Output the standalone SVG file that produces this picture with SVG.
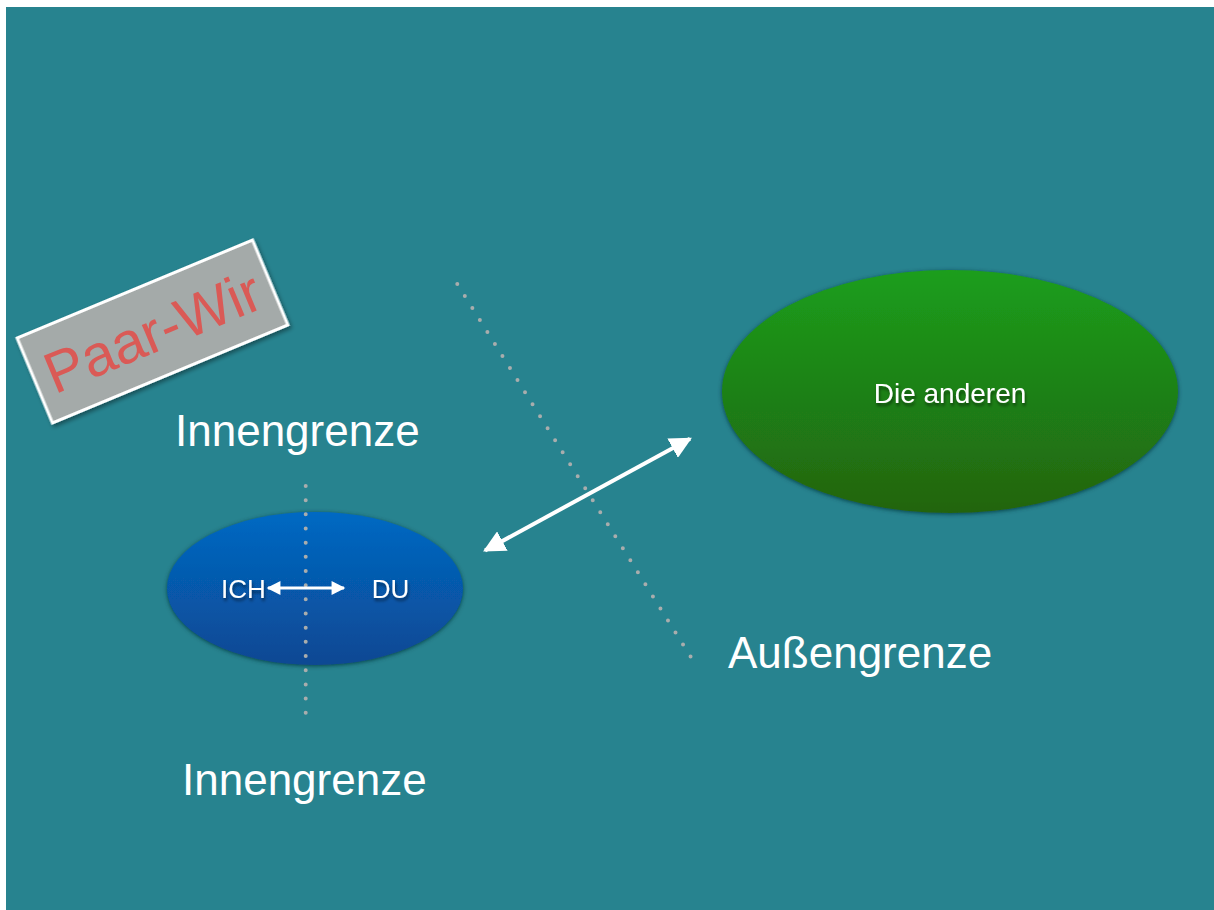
<svg xmlns="http://www.w3.org/2000/svg" width="1214" height="910" viewBox="0 0 1214 910">
<style>
.lbl{font-family:"Liberation Sans",Arial,sans-serif;fill:#ffffff;}
.big{font-size:44px;}
.dots{fill:none;stroke:#a9adad;stroke-width:4;stroke-linecap:round;stroke-dasharray:0 1;}
.conn{stroke:#ffffff;fill:none;}
</style>
<defs>
<linearGradient id="gBlue" x1="0" y1="0" x2="0" y2="1">
<stop offset="0" stop-color="#0369c3"/>
<stop offset="1" stop-color="#0a4893"/>
</linearGradient>
<linearGradient id="gGreen" x1="0" y1="0" x2="0" y2="1">
<stop offset="0" stop-color="#1b9e1c"/>
<stop offset="1" stop-color="#22640f"/>
</linearGradient>
<filter id="shEl" x="-10%" y="-10%" width="120%" height="125%">
<feGaussianBlur in="SourceAlpha" stdDeviation="2"/>
<feOffset dy="1" result="b"/>
<feFlood flood-color="#0b3a40" flood-opacity="0.9"/>
<feComposite in2="b" operator="in"/>
<feMerge><feMergeNode/><feMergeNode in="SourceGraphic"/></feMerge>
</filter>
<filter id="shTx" x="-10%" y="-20%" width="120%" height="150%">
<feGaussianBlur in="SourceAlpha" stdDeviation="1.5"/>
<feOffset dx="1" dy="3" result="b"/>
<feFlood flood-color="#000000" flood-opacity="0.45"/>
<feComposite in2="b" operator="in"/>
<feMerge><feMergeNode/><feMergeNode in="SourceGraphic"/></feMerge>
</filter>
<filter id="shRect" x="-10%" y="-20%" width="120%" height="150%">
<feGaussianBlur in="SourceAlpha" stdDeviation="2"/>
<feOffset dx="1" dy="3" result="b"/>
<feFlood flood-color="#000000" flood-opacity="0.4"/>
<feComposite in2="b" operator="in"/>
<feMerge><feMergeNode/><feMergeNode in="SourceGraphic"/></feMerge>
</filter>
<marker id="ahBig" viewBox="0 0 10 10" refX="9" refY="5" markerWidth="5.5" markerHeight="5.5" orient="auto-start-reverse" markerUnits="strokeWidth">
<path d="M0,0 L10,5 L0,10 Z" fill="#ffffff"/>
</marker>
<marker id="ahSmall" viewBox="0 0 10 10" refX="9" refY="5" markerWidth="5" markerHeight="4.6" orient="auto-start-reverse" markerUnits="strokeWidth">
<path d="M0,0 L10,5 L0,10 Z" fill="#ffffff"/>
</marker>
</defs>

<rect x="0" y="0" width="1214" height="910" fill="#ffffff"/>
<rect x="6" y="7" width="1208" height="903" fill="#27838f"/>

<g id="boundaries">
<path class="dots" d="M457.3,284 L690.7,656.7" pathLength="31.02"/>
</g>

<g id="node-paar-wir" transform="rotate(-22.6 152.5 331.5)">
<rect x="25" y="285.5" width="255" height="92" fill="#a4aaa9" stroke="#ffffff" stroke-width="3" filter="url(#shRect)"/>
<text x="152.5" y="352" text-anchor="middle" font-family="Liberation Sans,Arial,sans-serif" font-size="58" fill="#da5a56">Paar-Wir</text>
</g>

<g id="node-paar">
<ellipse cx="315" cy="588.5" rx="148" ry="76.5" fill="url(#gBlue)" filter="url(#shEl)"/>
</g>

<g id="node-anderen">
<ellipse cx="950" cy="391.5" rx="228" ry="121.5" fill="url(#gGreen)" filter="url(#shEl)"/>
<text class="lbl" x="950" y="403" text-anchor="middle" font-size="28" filter="url(#shTx)">Die anderen</text>
</g>

<g id="inner-boundary">
<path class="dots" d="M305.7,486 L305.7,713" pathLength="16.02"/>
</g>

<g id="node-ich">
<text class="lbl" x="243.5" y="598" text-anchor="middle" font-size="26" filter="url(#shTx)">ICH</text>
</g>
<g id="node-du">
<text class="lbl" x="390.5" y="598" text-anchor="middle" font-size="26" filter="url(#shTx)">DU</text>
</g>

<g id="connectors">
<line class="conn" x1="268" y1="588" x2="344" y2="588" stroke-width="3" marker-start="url(#ahSmall)" marker-end="url(#ahSmall)"/>
<line class="conn" x1="485" y1="550.5" x2="690" y2="438.7" stroke-width="4" marker-start="url(#ahBig)" marker-end="url(#ahBig)"/>
</g>

<g id="labels">
<text class="lbl big" x="175" y="446">Innengrenze</text>
<text class="lbl big" x="182" y="795">Innengrenze</text>
<text class="lbl big" x="728" y="668">Außengrenze</text>
</g>
</svg>
